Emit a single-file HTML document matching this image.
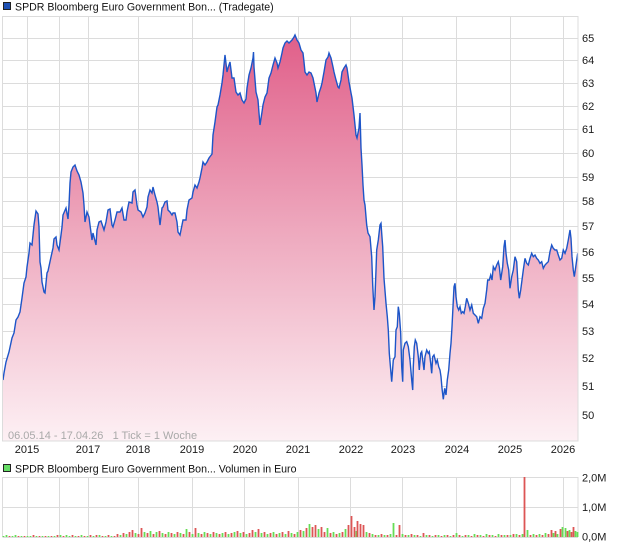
<!DOCTYPE html>
<html><head><meta charset="utf-8"><style>
html,body{margin:0;padding:0;background:#fff;}
svg{display:block;font-family:"Liberation Sans",Arial,sans-serif;}
</style></head><body>
<svg width="620" height="546" viewBox="0 0 620 546" xmlns="http://www.w3.org/2000/svg">
<defs>
<linearGradient id="pg" gradientUnits="userSpaceOnUse" x1="0" y1="30" x2="0" y2="441">
<stop offset="0" stop-color="#e05d88"/>
<stop offset="0.5" stop-color="#eeaabf"/>
<stop offset="1" stop-color="#fdf0f4"/>
</linearGradient>
</defs>
<rect width="620" height="546" fill="#fff"/>
<!-- title -->
<rect x="3.5" y="2.5" width="7" height="7" fill="#1f52b5" stroke="#222" stroke-width="1"/>
<text x="15" y="10.5" font-size="10.6" fill="#111">SPDR Bloomberg Euro Government Bon... (Tradegate)</text>
<!-- main grid -->
<g stroke="#dcdcdc" stroke-width="1" fill="none">
<path d="M2.5 38.5H578M2.5 60.5H578M2.5 83.5H578M2.5 106.5H578M2.5 129.5H578M2.5 153.5H578M2.5 177.5H578M2.5 201.5H578M2.5 226.5H578M2.5 252.5H578M2.5 278.5H578M2.5 304.5H578M2.5 331.5H578M2.5 358.5H578M2.5 386.5H578M2.5 415.5H578"/>
<path d="M27.5 16V441M59.5 16V441M88.5 16V441M138.5 16V441M192.5 16V441M244.5 16V441M298.5 16V441M350.5 16V441M402.5 16V441M456.5 16V441M510.5 16V441M563.5 16V441"/>
</g>
<!-- fill -->
<polygon fill="url(#pg)" points="3,441 3,380 4,373 6,362 9,352 12,338 14,333 16,320 18,317 20,312 22,298 24,283 26,277 27,267 29,253 30,243 32,245 33,235 34,225 36,211 38,214 39,227 40,262 41,268 42,282 44,292 45,293 47,273 48,271 51,257 53,248 54,239 56,237 57,245 59,250 61,235 62,227 63,215 66,208 68,219 69,205 70,183 71,172 73,167 75,165 77,171 79,175 81,182 83,193 84,205 85,222 87,212 89,217 90,225 92,240 93,233 96,245 97,230 99,222 101,221 103,227 104,230 106,222 108,210 110,209 112,225 113,227 115,220 117,212 120,212 122,208 124,220 126,220 127,212 129,202 132,203 133,192 135,190 137,205 138,210 141,212 143,217 145,213 147,207 148,197 150,190 152,193 153,187 155,195 157,202 158,207 160,225 162,208 163,207 165,202 167,201 168,210 170,212 172,215 173,213 175,213 177,222 178,232 180,235 182,225 183,220 186,220 187,210 189,200 192,198 193,192 195,185 197,188 199,182 200,178 202,168 203,162 205,165 207,162 209,158 212,154 213,135 215,122 217,107 218,105 220,95 222,83 223,75 225,55 227,72 228,68 230,62 232,78 234,78 236,92 238,95 240,93 242,100 244,103 246,99 247,88 249,75 251,68 253,58 253.5,52 254,67 256,92 258,100 259,113 260,125 262,112 263,105 265,97 267,93 269,78 271,73 273,65 275,58 277,63 278,68 280,62 282,53 283,48 285,43 287,41 289,43 292,40 294,37 295,35 297,40 299,43 301,50 303,53 304,62 305,72 307,75 309,72 311,73 313,78 314,83 316,93 317,102 319,93 321,87 322,83 324,72 326,60 328,57 329,53 331,58 333,67 334,72 336,80 338,87 339,88 341,80 342,72 344,68 346,65 347,68 349,82 351,93 352,98 354,115 356,135 357,138 359,128 360,113 361,148 362,165 363,185 364,200 365,205 366.7,225 368,233 370,236.7 371.7,256.7 372.7,285 374,310 375,296.7 376,270 376.7,250 378.3,240 380,225 381,223.3 381.7,233.3 382.7,246.7 384,278.3 386,303.3 387.3,316.7 388.3,330 389.3,353.3 390.7,370 391.7,381.7 393.3,360 395,356.7 396,330 397.3,326.7 398.3,306.7 399.3,313.3 400.7,333.3 401.7,366.7 402.7,381.7 403.3,350 405,343.3 406.7,341.7 408.3,346.7 410,360 411.7,380 412.7,390 413.3,366.7 414.3,346.7 415.3,340 416.7,343.3 418.3,356.7 419.3,370 420.7,353.3 421.7,351.7 422.7,360 424,370 425,356.7 426.7,350 428.3,353.3 429.3,351.7 430.7,363.3 431.7,373.3 432.7,356.7 434,355 436,363.3 437.3,360 438.7,366.7 440,370 441,376.7 442,388.3 443.3,399.3 444.7,388.3 446,395 447.3,380 448.7,370 450,353.3 451,343.3 452,326.7 453,306.7 454,286.7 455,283.3 456,296.7 457.3,306.7 458.7,310 460,306.7 461.3,313.3 462.7,311.7 464,313.3 465.3,306.7 466.7,298.3 468.3,303.3 470,310 471.7,305 473.3,313.3 475,315 476.7,316.7 478.3,323.3 480,316.7 481.7,318.3 483.3,308.3 485,303.3 486.7,290 487.7,280 489.3,280 490.7,275 492,280 493.3,266.7 495,270 496.7,265 498.3,261.7 499.3,266.7 500.7,280 502.7,266.7 504,246.7 505,240 506,253.3 507.3,263.3 508.7,270 510,288.3 511.7,276.7 513.3,270 515,256.7 516.7,261.7 518.3,290 519.3,298.3 520.7,290 522,280 523.3,270 525,258.3 526.7,263.3 528.3,265 530,258.3 531.7,253.3 533.3,256.7 535,255 536.7,258.3 538.3,260 540,263.3 541.7,261.7 543.3,268.3 545,265 546.7,263.3 548.3,261.7 550,251.7 551.7,245 553.3,248.3 555,250 556.7,250 558.3,255 560,260 561.7,258.3 563.3,250 565,253.3 566.7,248.3 568.3,240 570,230 571,238.3 572,256.7 573.3,270 574.3,276.7 575.3,270 576.7,260 577.7,253.3 578,253 578,441"/>
<!-- line -->
<polyline fill="none" stroke="#1d55c8" stroke-width="1.4" stroke-linejoin="miter" points="3,380 4,373 6,362 9,352 12,338 14,333 16,320 18,317 20,312 22,298 24,283 26,277 27,267 29,253 30,243 32,245 33,235 34,225 36,211 38,214 39,227 40,262 41,268 42,282 44,292 45,293 47,273 48,271 51,257 53,248 54,239 56,237 57,245 59,250 61,235 62,227 63,215 66,208 68,219 69,205 70,183 71,172 73,167 75,165 77,171 79,175 81,182 83,193 84,205 85,222 87,212 89,217 90,225 92,240 93,233 96,245 97,230 99,222 101,221 103,227 104,230 106,222 108,210 110,209 112,225 113,227 115,220 117,212 120,212 122,208 124,220 126,220 127,212 129,202 132,203 133,192 135,190 137,205 138,210 141,212 143,217 145,213 147,207 148,197 150,190 152,193 153,187 155,195 157,202 158,207 160,225 162,208 163,207 165,202 167,201 168,210 170,212 172,215 173,213 175,213 177,222 178,232 180,235 182,225 183,220 186,220 187,210 189,200 192,198 193,192 195,185 197,188 199,182 200,178 202,168 203,162 205,165 207,162 209,158 212,154 213,135 215,122 217,107 218,105 220,95 222,83 223,75 225,55 227,72 228,68 230,62 232,78 234,78 236,92 238,95 240,93 242,100 244,103 246,99 247,88 249,75 251,68 253,58 253.5,52 254,67 256,92 258,100 259,113 260,125 262,112 263,105 265,97 267,93 269,78 271,73 273,65 275,58 277,63 278,68 280,62 282,53 283,48 285,43 287,41 289,43 292,40 294,37 295,35 297,40 299,43 301,50 303,53 304,62 305,72 307,75 309,72 311,73 313,78 314,83 316,93 317,102 319,93 321,87 322,83 324,72 326,60 328,57 329,53 331,58 333,67 334,72 336,80 338,87 339,88 341,80 342,72 344,68 346,65 347,68 349,82 351,93 352,98 354,115 356,135 357,138 359,128 360,113 361,148 362,165 363,185 364,200 365,205 366.7,225 368,233 370,236.7 371.7,256.7 372.7,285 374,310 375,296.7 376,270 376.7,250 378.3,240 380,225 381,223.3 381.7,233.3 382.7,246.7 384,278.3 386,303.3 387.3,316.7 388.3,330 389.3,353.3 390.7,370 391.7,381.7 393.3,360 395,356.7 396,330 397.3,326.7 398.3,306.7 399.3,313.3 400.7,333.3 401.7,366.7 402.7,381.7 403.3,350 405,343.3 406.7,341.7 408.3,346.7 410,360 411.7,380 412.7,390 413.3,366.7 414.3,346.7 415.3,340 416.7,343.3 418.3,356.7 419.3,370 420.7,353.3 421.7,351.7 422.7,360 424,370 425,356.7 426.7,350 428.3,353.3 429.3,351.7 430.7,363.3 431.7,373.3 432.7,356.7 434,355 436,363.3 437.3,360 438.7,366.7 440,370 441,376.7 442,388.3 443.3,399.3 444.7,388.3 446,395 447.3,380 448.7,370 450,353.3 451,343.3 452,326.7 453,306.7 454,286.7 455,283.3 456,296.7 457.3,306.7 458.7,310 460,306.7 461.3,313.3 462.7,311.7 464,313.3 465.3,306.7 466.7,298.3 468.3,303.3 470,310 471.7,305 473.3,313.3 475,315 476.7,316.7 478.3,323.3 480,316.7 481.7,318.3 483.3,308.3 485,303.3 486.7,290 487.7,280 489.3,280 490.7,275 492,280 493.3,266.7 495,270 496.7,265 498.3,261.7 499.3,266.7 500.7,280 502.7,266.7 504,246.7 505,240 506,253.3 507.3,263.3 508.7,270 510,288.3 511.7,276.7 513.3,270 515,256.7 516.7,261.7 518.3,290 519.3,298.3 520.7,290 522,280 523.3,270 525,258.3 526.7,263.3 528.3,265 530,258.3 531.7,253.3 533.3,256.7 535,255 536.7,258.3 538.3,260 540,263.3 541.7,261.7 543.3,268.3 545,265 546.7,263.3 548.3,261.7 550,251.7 551.7,245 553.3,248.3 555,250 556.7,250 558.3,255 560,260 561.7,258.3 563.3,250 565,253.3 566.7,248.3 568.3,240 570,230 571,238.3 572,256.7 573.3,270 574.3,276.7 575.3,270 576.7,260 577.7,253.3"/>
<!-- main border -->
<rect x="2.5" y="16.5" width="575.5" height="424.5" fill="none" stroke="#dcdcdc" stroke-width="1"/>
<!-- range text -->
<text x="8" y="439" font-size="11" fill="#a9a9a9" style="white-space:pre" xml:space="preserve">06.05.14 - 17.04.26   1 Tick = 1 Woche</text>
<!-- price labels -->
<g font-size="11" fill="#1a1a1a">
<text x="582" y="42">65</text><text x="582" y="64">64</text><text x="582" y="87">63</text><text x="582" y="110">62</text><text x="582" y="133">61</text><text x="582" y="157">60</text><text x="582" y="181">59</text><text x="582" y="205">58</text><text x="582" y="230">57</text><text x="582" y="256">56</text><text x="582" y="282">55</text><text x="582" y="308">54</text><text x="582" y="335">53</text><text x="582" y="362">52</text><text x="582" y="390">51</text><text x="582" y="419">50</text>
</g>
<!-- year labels -->
<g font-size="11" fill="#1a1a1a" text-anchor="middle">
<text x="27" y="453">2015</text><text x="88" y="453">2017</text><text x="138" y="453">2018</text><text x="192" y="453">2019</text><text x="245" y="453">2020</text><text x="298" y="453">2021</text><text x="351" y="453">2022</text><text x="403" y="453">2023</text><text x="457" y="453">2024</text><text x="510" y="453">2025</text><text x="563" y="453">2026</text>
</g>
<!-- volume title -->
<rect x="3.5" y="464.5" width="7" height="7" fill="#66dd66" stroke="#222" stroke-width="1"/>
<text x="15" y="472.5" font-size="10.6" fill="#111">SPDR Bloomberg Euro Government Bon... Volumen in Euro</text>
<!-- volume grid -->
<g stroke="#dcdcdc" stroke-width="1" fill="none">
<path d="M2.5 477.5H578M2.5 507.5H578M2.5 537.5H578"/>
<path d="M2.5 477V537M27.5 477V537M59.5 477V537M88.5 477V537M138.5 477V537M192.5 477V537M244.5 477V537M298.5 477V537M350.5 477V537M402.5 477V537M456.5 477V537M510.5 477V537M563.5 477V537M578 477V537"/>
</g>
<!-- volume bars -->
<path stroke="#66dd55" stroke-width="1.8" fill="none" d="M3.5 537v-1M6.5 537v-2M12.5 537v-1M15.5 537v-2M21.5 537v-1M27.5 537v-1M30.5 537v-1M36.5 537v-1M42.5 537v-1M48.5 537v-1M54.5 537v-1M60.5 537v-2M66.5 537v-2M69.5 537v-1M75.5 537v-1M81.5 537v-2M87.5 537v-1M93.5 537v-1M99.5 537v-2M105.5 537v-1M111.5 537v-1M120.5 537v-2M126.5 537v-3M135.5 537v-4M144.5 537v-5M150.5 537v-6M156.5 537v-5M162.5 537v-4M168.5 537v-5M174.5 537v-3M180.5 537v-4M186.5 537v-8M192.5 537v-3M198.5 537v-4M204.5 537v-5M210.5 537v-3M216.5 537v-4M222.5 537v-4M228.5 537v-3M234.5 537v-5M240.5 537v-4M246.5 537v-3M255.5 537v-5M261.5 537v-4M267.5 537v-3M273.5 537v-5M279.5 537v-4M285.5 537v-3M291.5 537v-4M297.5 537v-5M303.5 537v-6M309.5 537v-13M318.5 537v-8M327.5 537v-9M333.5 537v-5M339.5 537v-4M345.5 537v-8M356.5 537v-6M366.5 537v-5M372.5 537v-3M378.5 537v-2M384.5 537v-2M390.5 537v-3M393.5 537v-14M402.5 537v-3M408.5 537v-2M414.5 537v-2M420.5 537v-1M426.5 537v-2M432.5 537v-1M438.5 537v-2M444.5 537v-2M450.5 537v-1M456.5 537v-4M462.5 537v-1M468.5 537v-2M474.5 537v-3M480.5 537v-2M486.5 537v-3M492.5 537v-2M498.5 537v-3M504.5 537v-2M510.5 537v-2M516.5 537v-3M522.5 537v-3M527.5 537v-7M533.5 537v-3M539.5 537v-3M545.5 537v-4M553.5 537v-4M557.5 537v-3M562.5 537v-10M565.5 537v-9M569.5 537v-7M575.5 537v-6M577.5 537v-5"/>
<path stroke="#dd5555" stroke-width="1.8" fill="none" d="M9.5 537v-1M18.5 537v-1M24.5 537v-1M33.5 537v-2M39.5 537v-1M45.5 537v-1M51.5 537v-1M57.5 537v-2M63.5 537v-1M72.5 537v-2M78.5 537v-1M84.5 537v-1M90.5 537v-2M96.5 537v-2M102.5 537v-1M108.5 537v-2M114.5 537v-1M117.5 537v-3M123.5 537v-4M129.5 537v-5M132.5 537v-7M138.5 537v-3M141.5 537v-9M147.5 537v-4M153.5 537v-3M159.5 537v-6M165.5 537v-3M171.5 537v-4M177.5 537v-5M183.5 537v-3M189.5 537v-5M195.5 537v-9M201.5 537v-3M207.5 537v-4M213.5 537v-5M219.5 537v-3M225.5 537v-5M231.5 537v-4M237.5 537v-6M243.5 537v-5M249.5 537v-4M252.5 537v-7M258.5 537v-8M264.5 537v-5M270.5 537v-4M276.5 537v-3M282.5 537v-5M288.5 537v-6M294.5 537v-3M300.5 537v-7M306.5 537v-9M312.5 537v-10M315.5 537v-12M321.5 537v-10M324.5 537v-5M330.5 537v-4M336.5 537v-3M342.5 537v-5M348.5 537v-12M351.5 537v-21M354.5 537v-10M357.5 537v-16M360.5 537v-13M363.5 537v-12M369.5 537v-4M375.5 537v-2M381.5 537v-3M387.5 537v-2M396.5 537v-2M399.5 537v-12M405.5 537v-2M411.5 537v-3M417.5 537v-2M423.5 537v-4M429.5 537v-2M435.5 537v-2M441.5 537v-1M447.5 537v-2M453.5 537v-2M459.5 537v-2M465.5 537v-2M471.5 537v-1M477.5 537v-2M483.5 537v-1M489.5 537v-2M495.5 537v-1M501.5 537v-2M507.5 537v-2M513.5 537v-3M519.5 537v-2M524.5 537v-60M530.5 537v-2M536.5 537v-2M542.5 537v-2M548.5 537v-3M551.5 537v-7M555.5 537v-6M560.5 537v-8M567.5 537v-6M571.5 537v-5M573.5 537v-10"/>
<!-- volume labels -->
<g font-size="11" fill="#1a1a1a">
<text x="582" y="481.5">2,0M</text><text x="582" y="511">1,0M</text><text x="582" y="540.5">0,0M</text>
</g>
</svg>
</body></html>
